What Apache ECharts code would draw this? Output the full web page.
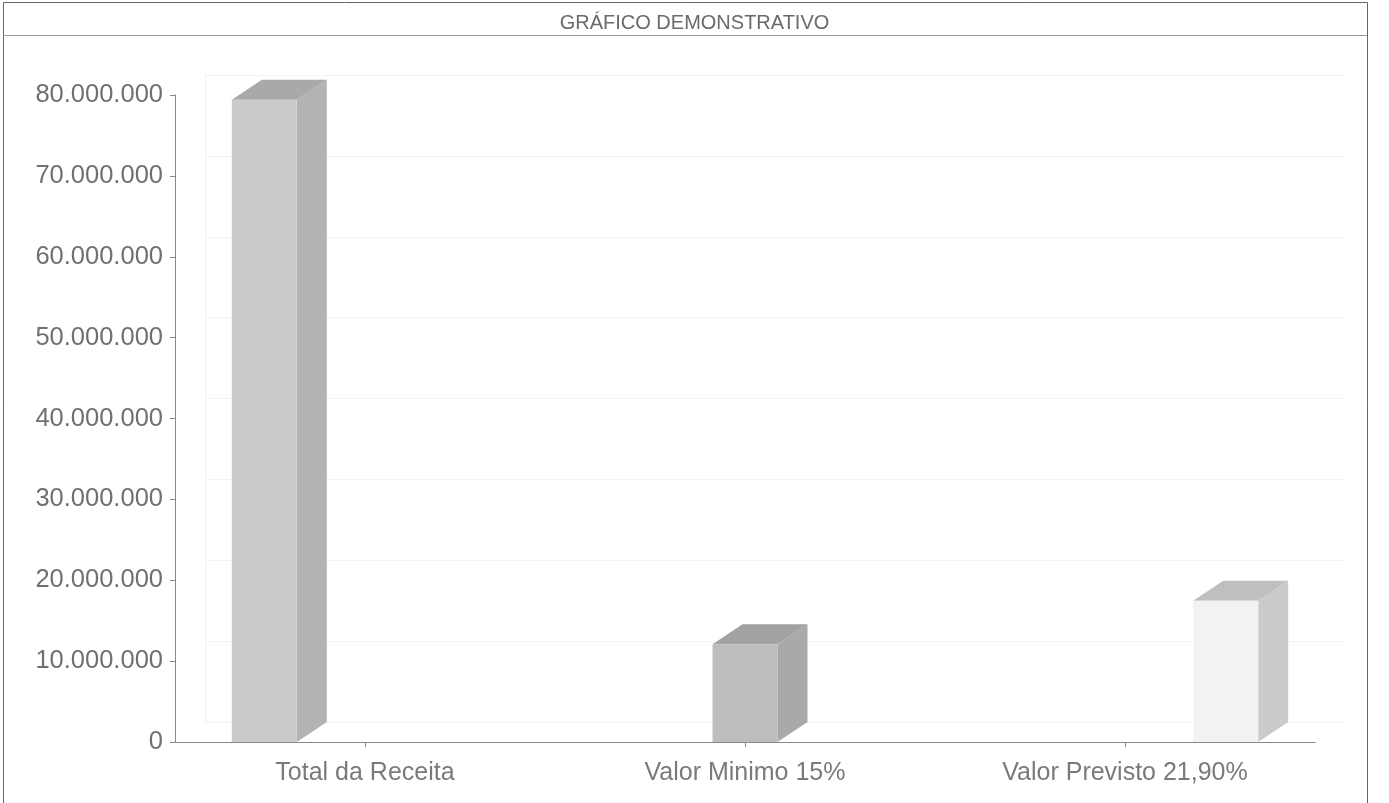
<!DOCTYPE html>
<html lang="pt">

<head>
    <meta charset="UTF-8">
    <script src="https://cdn.jsdelivr.net/npm/echarts@6/dist/echarts.min.js"></script>
    <title>Gráfico demonstrativo</title>
    <style>
        html, body { margin: 0; padding: 0; background: #fff; }
    </style>
</head>

<body>
    <div id="main" style="width: 1389px;height: 803px;"></div>

    <script>
        // dados
        var categorias = ['Total da Receita', 'Valor Minimo 15%', 'Valor Previsto 21,90%'];
        var valores = [79400000, 12100000, 17450000];
        var yTicks = [0, 10000000, 20000000, 30000000, 40000000, 50000000, 60000000, 70000000, 80000000];

        // cores das faces (frente, lado, topo)
        var cores = [
            ['#c9cacc', '#b3b3b3', '#a9a9a9'],
            ['#bdbdbd', '#a9a9a9', '#a2a2a2'],
            ['#f2f2f2', '#cbcbcb', '#bfbfbf']
        ];
        var dx = 30, dy = -20; // profundidade 3D

        var chartDom = document.getElementById('main');
        var myChart = echarts.init(chartDom);

        function fmt(v) {
            return String(v).replace(/\B(?=(\d{3})+(?!\d))/g, '.');
        }

        var option = {
            backgroundColor: '#fff',
            animation: false,
            title: {
                text: 'GRÁFICO DEMONSTRATIVO',
                left: 'center',
                top: 8,
                textStyle: {
                    fontFamily: 'Liberation Sans',
                    fontSize: 20,
                    fontWeight: 'normal',
                    color: '#6a6a6a'
                }
            },
            graphic: [
                {
                    type: 'rect',
                    shape: { x: 3.5, y: 2.5, width: 1364, height: 810 },
                    style: { fill: 'none', stroke: '#666', lineWidth: 1 },
                    silent: true
                },
                {
                    type: 'line',
                    shape: { x1: 3, y1: 35.5, x2: 1367, y2: 35.5 },
                    style: { stroke: '#999', lineWidth: 1 },
                    silent: true
                }
            ],
            grid: [
                { left: 175, top: 95, width: 1140, height: 647 },
                // parede de fundo (deslocada pela profundidade)
                { left: 175 + dx, top: 95 + dy, width: 1140, height: 647 }
            ],
            xAxis: [
                {
                    type: 'category',
                    gridIndex: 0,
                    data: categorias,
                    axisLine: { lineStyle: { color: '#888' } },
                    axisTick: { show: true, alignWithLabel: true, length: 5, lineStyle: { color: '#888' } },
                    axisLabel: {
                        fontFamily: 'Liberation Sans',
                        fontSize: 25,
                        color: '#7a7a7a',
                        margin: 19
                    }
                },
                {
                    type: 'category',
                    gridIndex: 1,
                    data: categorias,
                    axisLine: { show: false },
                    axisTick: { show: false },
                    axisLabel: { show: false }
                }
            ],
            yAxis: [
                {
                    type: 'value',
                    gridIndex: 0,
                    min: 0,
                    max: yTicks[yTicks.length - 1],
                    interval: yTicks[1] - yTicks[0],
                    axisLine: { show: true, lineStyle: { color: '#888' } },
                    axisTick: { show: true, length: 5, lineStyle: { color: '#888' } },
                    splitLine: { show: false },
                    axisLabel: {
                        fontFamily: 'Liberation Sans',
                        fontSize: 25.5,
                        color: '#707070',
                        margin: 12,
                        formatter: fmt
                    }
                },
                {
                    type: 'value',
                    gridIndex: 1,
                    min: 0,
                    max: yTicks[yTicks.length - 1],
                    interval: yTicks[1] - yTicks[0],
                    axisLine: { show: true, lineStyle: { color: '#eee' } },
                    axisTick: { show: false },
                    axisLabel: { show: false },
                    splitLine: { show: true, lineStyle: { color: '#e6e6e6', type: 'dotted' } }
                }
            ],
            series: [
                {
                    type: 'custom',
                    xAxisIndex: 0,
                    yAxisIndex: 0,
                    encode: { x: 0, y: 1 },
                    data: valores.map(function (v, i) { return [i, v]; }),
                    renderItem: function (params, api) {
                        var i = api.value(0);
                        var base = api.coord([i, 0]);
                        var top = api.coord([i, api.value(1)]);
                        var band = api.size([1, 0])[0];
                        var w = band * 0.171;
                        var cx = base[0] + (i - 1) * band * 0.265;
                        var l = cx - w / 2, r = cx + w / 2;
                        var y0 = base[1], y1 = top[1];
                        var c = cores[i];
                        return {
                            type: 'group',
                            children: [
                                {
                                    type: 'polygon',
                                    shape: { points: [[r, y1], [r + dx, y1 + dy], [r + dx, y0 + dy], [r, y0]] },
                                    style: { fill: c[1] }
                                },
                                {
                                    type: 'polygon',
                                    shape: { points: [[l, y1], [l + dx, y1 + dy], [r + dx, y1 + dy], [r, y1]] },
                                    style: { fill: c[2] }
                                },
                                {
                                    type: 'rect',
                                    shape: { x: l, y: y1, width: w, height: y0 - y1 },
                                    style: { fill: c[0] }
                                }
                            ]
                        };
                    }
                }
            ]
        };
        myChart.setOption(option);
    </script>
</body>

</html>
